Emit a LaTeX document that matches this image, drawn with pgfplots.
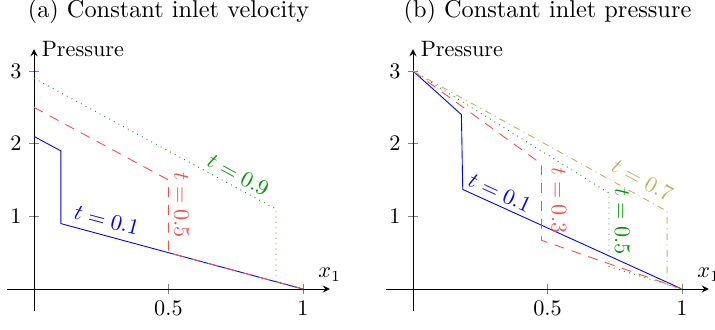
\documentclass[border=0pt]{standalone}
\usepackage{pgfplots}
\pgfplotsset{compat=1.18}
\usetikzlibrary{calc}
\definecolor{myred}{rgb}{1,0.3,0.3}
\definecolor{mygreen}{rgb}{0,0.6,0}
\definecolor{myolive}{RGB}{190,178,90}
\pgfplotsset{
  myaxis/.style={
    axis lines=middle,
    x=121pt, y=32.7pt,
    xmin=-0.1, xmax=1.1, ymin=-0.3, ymax=3.3,
    xtick={0.5,1}, ytick={1,2,3},
    tick style={gray},
    clip=false,
    xlabel={$x_1$}, ylabel={Pressure},
    every axis x label/.style={at={(axis cs:1.1,0)},anchor=south},
    every axis y label/.style={at={(axis cs:0,3.3)},anchor=west},
  },
  reddash/.style={myred, dash pattern=on 4.5pt off 3.5pt},
}
\begin{document}
\begin{tikzpicture}
\begin{axis}[myaxis]
\coordinate (O) at (axis cs:0,0);
\addplot[blue, no marks] coordinates {(0,2.1) (0.1,1.9) (0.1,0.9) (1,0)};
\addplot[reddash, no marks] coordinates {(0,2.5) (0.5,1.5) (0.5,0.5) (1,0)};
\addplot[mygreen, dotted, no marks] coordinates {(0,2.9) (0.9,1.1) (0.9,0.1) (1,0)};
\node[text=blue, rotate=-15] at (axis cs:0.271,0.95) {$t = 0.1$};
\node[text=myred, rotate=-90] at (axis cs:0.549,1.155) {$t = 0.5$};
\node[text=mygreen, rotate=-28.4] at (axis cs:0.76,1.57) {$t = 0.9$};
\node[anchor=base, font=\fontsize{10.95}{13}\selectfont] at (axis cs:0.5,3.73) {(a) Constant inlet velocity};
\end{axis}
\begin{axis}[myaxis, xshift=170.55pt]
\addplot[blue, no marks] coordinates {(0,3) (0.18,2.4) (0.185,1.37) (1,0)};
\addplot[reddash, no marks] coordinates {(0,3) (0.478,1.72) (0.478,0.67) (1,0)};
\addplot[mygreen, dotted, no marks] coordinates {(0,3) (0.729,1.32) (0.729,0.31) (1,0)};
\addplot[myolive, dashdotted, no marks] coordinates {(0,3) (0.945,1.07) (0.945,0.06) (1,0)};
\node[text=blue, rotate=-24.5] at (axis cs:0.323,1.325) {$t = 0.1$};
\node[text=myred, rotate=-90] at (axis cs:0.543,1.22) {$t = 0.3$};
\node[text=mygreen, rotate=-90] at (axis cs:0.778,0.93) {$t = 0.5$};
\node[text=myolive, rotate=-29] at (axis cs:0.853,1.5) {$t = 0.7$};
\node[anchor=base, font=\fontsize{10.95}{13}\selectfont] at (axis cs:0.5,3.73) {(b) Constant inlet pressure};
\end{axis}
\pgfresetboundingbox
\path[use as bounding box] ($(O)+(-15.3pt,-18pt)$) rectangle ++(321.75pt,148.05pt);
\end{tikzpicture}
\end{document}
